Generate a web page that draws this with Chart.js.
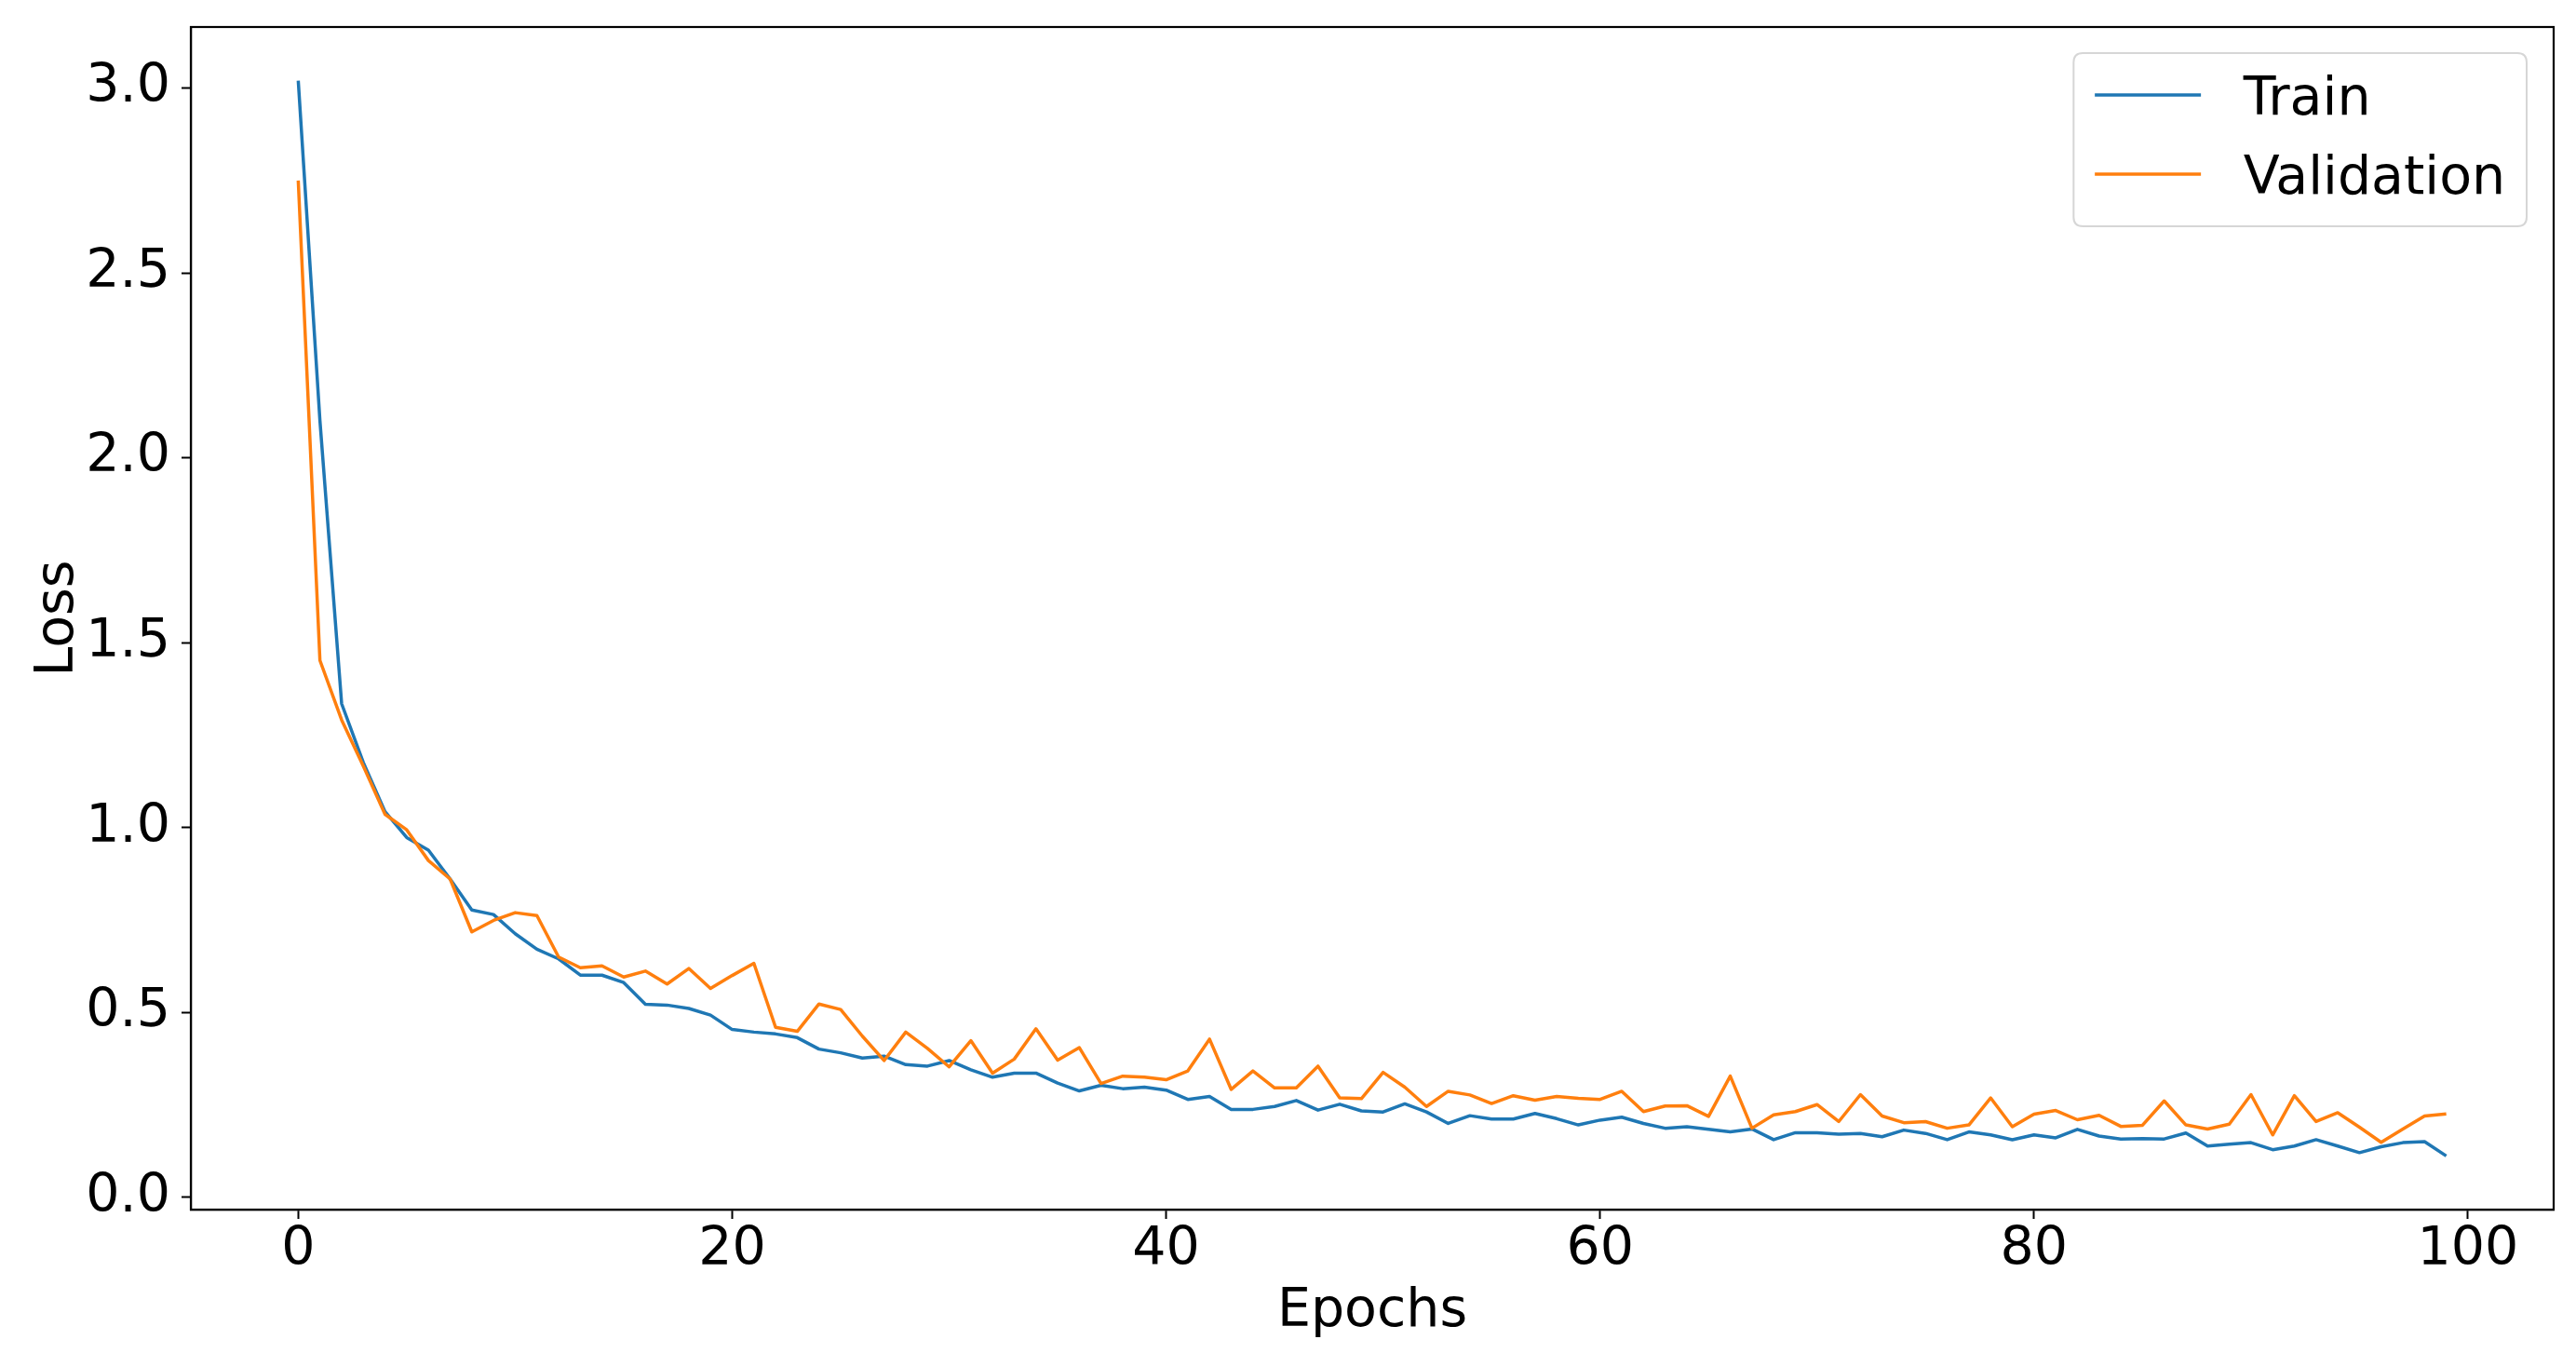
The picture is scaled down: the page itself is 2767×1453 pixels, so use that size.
<!DOCTYPE html>
<html>
<head>
<meta charset="utf-8">
<script src="https://cdn.jsdelivr.net/npm/chart.js@4.4.1/dist/chart.umd.min.js"></script>
<style>
html,body{margin:0;padding:0;background:#ffffff;}
#wrap{width:2767px;height:1453px;position:relative;}
</style>
</head>
<body>
<div id="wrap"><canvas id="c"></canvas></div>
<script>
const epochs = [0,1,2,3,4,5,6,7,8,9,10,11,12,13,14,15,16,17,18,19,20,21,22,23,24,25,26,27,28,29,30,31,32,33,34,35,36,37,38,39,40,41,42,43,44,45,46,47,48,49,50,51,52,53,54,55,56,57,58,59,60,61,62,63,64,65,66,67,68,69,70,71,72,73,74,75,76,77,78,79,80,81,82,83,84,85,86,87,88,89,90,91,92,93,94,95,96,97,98,99];
const trainLoss = [3.02,2.10,1.335,1.176,1.043,0.973,0.939,0.861,0.777,0.765,0.713,0.671,0.645,0.601,0.601,0.581,0.522,0.520,0.511,0.493,0.454,0.447,0.442,0.432,0.401,0.391,0.377,0.382,0.359,0.355,0.370,0.345,0.325,0.336,0.336,0.309,0.288,0.303,0.294,0.298,0.290,0.265,0.273,0.238,0.238,0.246,0.262,0.236,0.252,0.234,0.231,0.253,0.231,0.200,0.221,0.212,0.212,0.227,0.213,0.196,0.209,0.217,0.200,0.187,0.191,0.184,0.177,0.185,0.156,0.175,0.175,0.171,0.173,0.164,0.182,0.173,0.156,0.177,0.169,0.156,0.169,0.161,0.184,0.166,0.158,0.159,0.158,0.174,0.139,0.144,0.148,0.129,0.139,0.156,0.139,0.121,0.137,0.148,0.151,0.112];
const valLoss = [2.75,1.452,1.291,1.166,1.036,0.994,0.911,0.861,0.718,0.749,0.770,0.762,0.650,0.621,0.626,0.596,0.612,0.577,0.619,0.565,0.600,0.633,0.460,0.449,0.523,0.508,0.436,0.370,0.447,0.403,0.353,0.424,0.336,0.374,0.456,0.371,0.405,0.308,0.328,0.325,0.318,0.342,0.428,0.292,0.342,0.296,0.296,0.355,0.269,0.267,0.338,0.298,0.246,0.287,0.277,0.254,0.275,0.263,0.273,0.268,0.265,0.287,0.232,0.247,0.248,0.219,0.328,0.187,0.223,0.232,0.251,0.205,0.278,0.220,0.202,0.205,0.187,0.196,0.269,0.191,0.225,0.235,0.210,0.222,0.192,0.195,0.261,0.196,0.185,0.198,0.278,0.169,0.275,0.205,0.229,0.190,0.149,0.185,0.220,0.226];
const xTicks = [0,20,40,60,80,100];
const yTicks = [0.0,0.5,1.0,1.5,2.0,2.5,3.0];
const seriesNames = ['Train','Validation'];
const seriesColors = ['#1f77b4','#ff7f0e'];
const xTitle = 'Epochs';
const yTitle = 'Loss';

const FONT_FAMILY = "'DejaVu Sans', sans-serif";
const FS = 57;

const framePlugin = {
  id: 'frame',
  afterDatasetsDraw(chart) {
    const ctx = chart.ctx, a = chart.chartArea;
    ctx.save();
    ctx.strokeStyle = '#000';
    ctx.lineWidth = 2.2;
    ctx.strokeRect(a.left, a.top, a.right - a.left, a.bottom - a.top);
    ctx.restore();
  }
};

const legendPlugin = {
  id: 'mplLegend',
  afterDraw(chart) {
    const ctx = chart.ctx, a = chart.chartArea;
    ctx.save();
    ctx.font = FS + 'px ' + FONT_FAMILY;
    const names = chart.data.datasets.map(d => d.label);
    let maxW = 0;
    names.forEach(n => { maxW = Math.max(maxW, ctx.measureText(n).width); });
    const pad = 0.4 * FS, handleLen = 2 * FS, handleGap = 0.8 * FS;
    const boxW = pad * 2 + handleLen + handleGap + maxW;
    const right = a.right - 29;
    const left = right - boxW;
    const top = a.top + 28;
    const rowGap = 85;
    const firstRow = top + 45;
    const boxH = 45 + rowGap * (names.length - 1) + 56;
    const r = 10;
    ctx.beginPath();
    ctx.moveTo(left + r, top);
    ctx.lineTo(left + boxW - r, top);
    ctx.quadraticCurveTo(left + boxW, top, left + boxW, top + r);
    ctx.lineTo(left + boxW, top + boxH - r);
    ctx.quadraticCurveTo(left + boxW, top + boxH, left + boxW - r, top + boxH);
    ctx.lineTo(left + r, top + boxH);
    ctx.quadraticCurveTo(left, top + boxH, left, top + boxH - r);
    ctx.lineTo(left, top + r);
    ctx.quadraticCurveTo(left, top, left + r, top);
    ctx.closePath();
    ctx.fillStyle = 'rgba(255,255,255,0.8)';
    ctx.fill();
    ctx.strokeStyle = '#d6d6d6';
    ctx.lineWidth = 2;
    ctx.stroke();
    chart.data.datasets.forEach((d, i) => {
      const y = firstRow + i * rowGap;
      ctx.beginPath();
      ctx.strokeStyle = d.borderColor;
      ctx.lineWidth = d.borderWidth;
      ctx.moveTo(left + pad, y);
      ctx.lineTo(left + pad + handleLen, y);
      ctx.stroke();
      ctx.fillStyle = '#000';
      ctx.textAlign = 'left';
      ctx.textBaseline = 'alphabetic';
      ctx.fillText(d.label, left + pad + handleLen + handleGap, y + 21);
    });
    ctx.restore();
  }
};

const toPoints = (ys) => epochs.map((e, i) => ({ x: e, y: ys[i] }));

new Chart(document.getElementById('c'), {
  type: 'line',
  data: {
    datasets: [
      { label: seriesNames[0], data: toPoints(trainLoss), borderColor: seriesColors[0], backgroundColor: seriesColors[0], borderWidth: 3.5, pointRadius: 0, tension: 0, fill: false, order: 1, borderJoinStyle: 'round' },
      { label: seriesNames[1], data: toPoints(valLoss), borderColor: seriesColors[1], backgroundColor: seriesColors[1], borderWidth: 3.5, pointRadius: 0, tension: 0, fill: false, order: 0, borderJoinStyle: 'round' }
    ]
  },
  options: {
    responsive: true,
    maintainAspectRatio: false,
    animation: false,
    devicePixelRatio: 1,
    layout: { padding: { left: 0, right: 24, top: 29, bottom: 0 } },
    plugins: { legend: { display: false }, tooltip: { enabled: false } },
    scales: {
      x: {
        type: 'linear',
        min: -4.95,
        max: 103.95,
        afterBuildTicks: (axis) => { axis.ticks = xTicks.map(v => ({ value: v })); },
        afterFit: (axis) => { axis.height = 154; axis.paddingLeft = 0; axis.paddingRight = 0; },
        grid: { display: true, drawOnChartArea: false, drawTicks: true, tickLength: 10, tickWidth: 2, tickColor: '#000' },
        border: { display: true, color: '#000', width: 2.2 },
        ticks: { color: '#000', font: { family: FONT_FAMILY, size: FS }, padding: 0, maxRotation: 0, autoSkip: false, callback: (v) => String(v) },
        title: { display: true, text: xTitle, color: '#000', font: { family: FONT_FAMILY, size: FS }, padding: { top: 0, bottom: 10 } }
      },
      y: {
        type: 'linear',
        min: -0.033,
        max: 3.165,
        afterBuildTicks: (axis) => { axis.ticks = yTicks.map(v => ({ value: v })); },
        afterFit: (axis) => { axis.width = 205; axis.paddingTop = 0; axis.paddingBottom = 0; },
        grid: { display: true, drawOnChartArea: false, drawTicks: true, tickLength: 10, tickWidth: 2, tickColor: '#000' },
        border: { display: true, color: '#000', width: 2.2 },
        ticks: { color: '#000', font: { family: FONT_FAMILY, size: FS }, padding: 12, autoSkip: false, callback: (v) => Number(v).toFixed(1) },
        title: { display: true, text: yTitle, color: '#000', font: { family: FONT_FAMILY, size: FS }, padding: { top: 29, bottom: 0 } }
      }
    }
  },
  plugins: [framePlugin, legendPlugin]
});
</script>
</body>
</html>
